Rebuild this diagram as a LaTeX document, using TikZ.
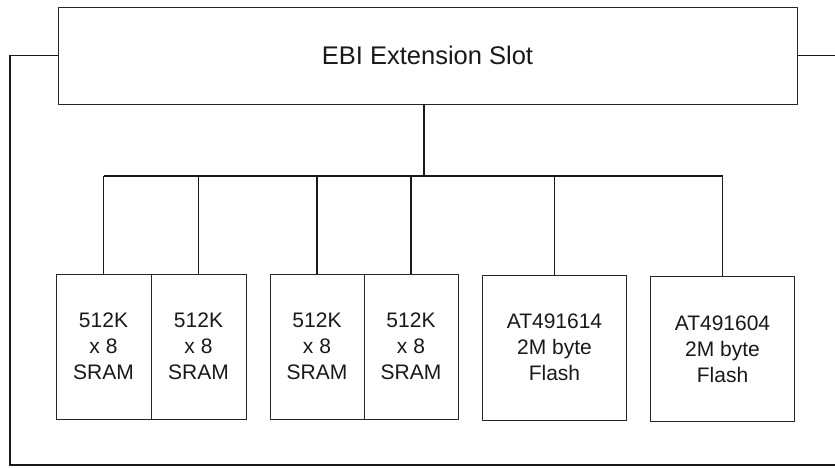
\documentclass[tikz,border=0pt]{standalone}
\usepackage{fontspec}
\setmainfont{Liberation Sans}
\begin{document}
\begin{tikzpicture}[x=1pt,y=-1pt,
  chip/.style={draw=black!85,line width=0.9pt,inner sep=0pt,minimum height=145pt,align=center,
    font=\fontsize{21}{26}\selectfont,text=black!90},
  wire/.style={draw=black!90,line width=1.5pt},
  ]
\useasboundingbox[fill=white] (0,0) rectangle (835,468);
\node[draw=black!85,line width=0.9pt,minimum width=739pt,minimum height=97pt,inner sep=0pt,
  font=\fontsize{25.5}{30}\selectfont,text=black!90] (slot) at (427.5,55.5) {EBI Extension Slot};
\node[chip,minimum width=95pt] (b1) at (103.5,346.5) {512K\\x 8\\SRAM};
\node[chip,minimum width=95pt] (b2) at (198.5,346.5) {512K\\x 8\\SRAM};
\node[chip,minimum width=94pt] (b3) at (317,346.5) {512K\\x 8\\SRAM};
\node[chip,minimum width=94pt] (b4) at (411,346.5) {512K\\x 8\\SRAM};
\node[chip,minimum width=144pt] (b5) at (554.5,347.5) {AT491614\\2M byte\\Flash};
\node[chip,minimum width=144pt] (b6) at (722.5,349) {AT491604\\2M byte\\Flash};
\coordinate (bus) at (424,176);
\coordinate (lc) at (10,465);
\coordinate (rc) at (840,465);
\draw[wire] (slot.south -| bus) -- (bus);
\draw[wire] (b1.north |- bus) -- (b6.north |- bus);
\foreach \b in {b1,b2,b3,b4,b5,b6}{
  \draw[wire] (\b.north |- bus) -- (\b.north);
}
\draw[wire] (slot.west) -| (lc) -- (rc);
\draw[wire] (slot.east) -- (slot.east -| rc);
\end{tikzpicture}
\end{document}
